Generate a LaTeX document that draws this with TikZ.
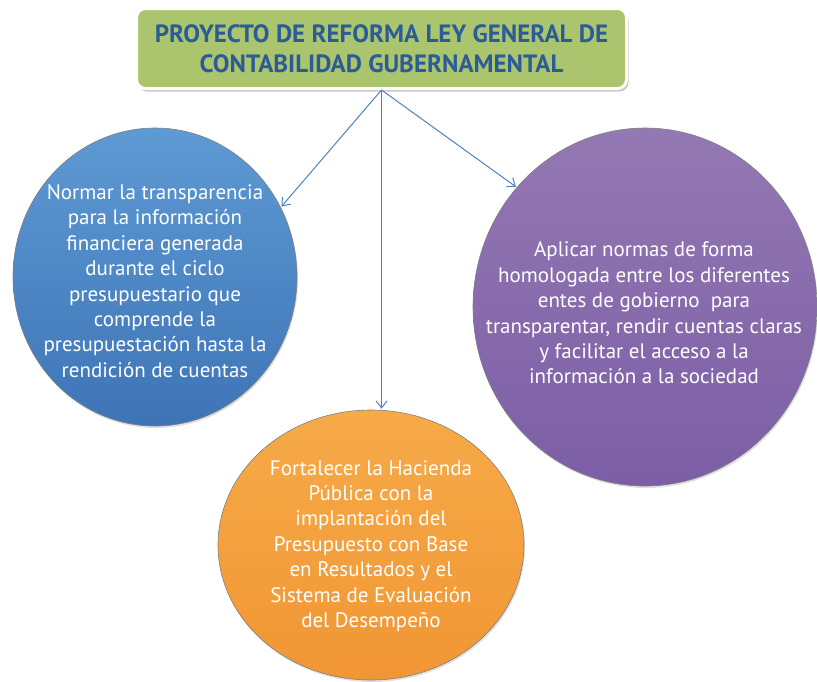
\documentclass[tikz,border=0pt]{standalone}
\usepackage{fontspec}
\setmainfont{PT Sans}
\usetikzlibrary{shapes.geometric,shadows,arrows.meta}

\definecolor{verdetitulo}{RGB}{171,196,110}
\definecolor{azultexto}{RGB}{44,92,151}
\definecolor{azularriba}{RGB}{94,154,212}
\definecolor{azulabajo}{RGB}{62,116,182}
\definecolor{moradoarriba}{RGB}{148,120,178}
\definecolor{moradoabajo}{RGB}{124,94,166}
\definecolor{naranjaarriba}{RGB}{247,170,72}
\definecolor{naranjaabajo}{RGB}{241,150,52}
\definecolor{flechaazul}{RGB}{79,129,189}

\begin{document}
\begin{tikzpicture}[x=1pt,y=-1pt,
    circulo/.style={ellipse, draw=black!50, line width=0.6pt, inner sep=0pt,
      drop shadow={shadow xshift=1pt, shadow yshift=-2pt, opacity=0.25}},
    texto/.style={text=white, align=center, inner sep=0pt,
      font=\fontsize{21}{25.4}\selectfont},
    flecha/.style={-{Straight Barb[length=7pt,width=11pt]}, draw=flechaazul,
      line width=1pt, shorten >=1pt}]
  \useasboundingbox (0,0) rectangle (817,681);
  % titulo
  \node[rectangle, rounded corners=9pt, fill=verdetitulo, draw=white,
    line width=3pt, minimum width=490pt, minimum height=80pt,
    drop shadow={shadow xshift=2pt, shadow yshift=-3pt, opacity=0.45},
    text=azultexto, align=center,
    font=\fontsize{25}{30}\selectfont\bfseries]
    (titulo) at (381.5,48.5)
    {PROYECTO DE REFORMA LEY GENERAL DE\\CONTABILIDAD GUBERNAMENTAL};
  % objetivos
  \node[circulo, top color=azularriba, bottom color=azulabajo,
    minimum width=284pt, minimum height=298pt] (normar) at (155,277) {};
  \node[circulo, top color=naranjaarriba, bottom color=naranjaabajo,
    minimum width=306pt, minimum height=270pt] (fortalecer) at (371,545) {};
  \node[circulo, top color=moradoarriba, bottom color=moradoabajo,
    minimum width=344pt, minimum height=358pt] (aplicar) at (645,307) {};
  \node[texto] (normartexto) at (155,281)
    {Normar la transparencia\\para la información\\financiera generada\\durante el ciclo\\presupuestario que\\comprende la\\presupuestación hasta la\\rendición de cuentas};
  \node[texto] (fortalecertexto) at (371,546)
    {Fortalecer la Hacienda\\Pública con la\\implantación del\\Presupuesto con Base\\en Resultados y el\\Sistema de Evaluación\\del Desempeño};
  \node[texto] (aplicartexto) at (644,313)
    {Aplicar normas de forma\\homologada entre los diferentes\\entes de gobierno\ \ para\\transparentar, rendir cuentas claras\\y facilitar el acceso a la\\información a la sociedad};
  % flechas
  \draw[flecha] (titulo.south) -- (normar.29);
  \draw[flecha] (titulo.south) -- (titulo.south |- fortalecer.north);
  \draw[flecha] (titulo.south) -- (aplicar.137);
\end{tikzpicture}
\end{document}
